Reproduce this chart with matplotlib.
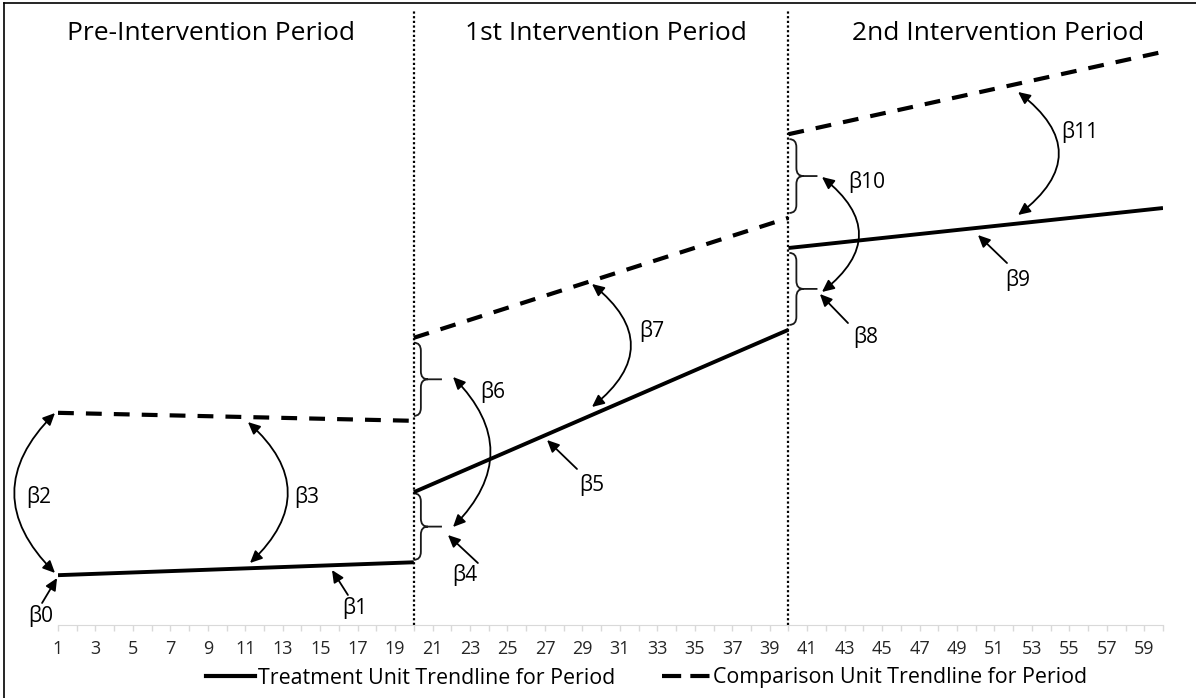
import matplotlib
matplotlib.use("Agg")
import matplotlib.pyplot as plt
from matplotlib.path import Path
from matplotlib.patches import PathPatch
from matplotlib.lines import Line2D

plt.rcParams['font.family'] = ['Open Sans', 'DejaVu Sans']

# period boundaries (start, end) on the time axis
periods = [(1, 20), (20, 40), (40, 60)]
period_names = ["Pre-Intervention Period", "1st Intervention Period", "2nd Intervention Period"]

# trendline values at start / end of each period
treatment = [(8.1, 10.2), (21.6, 48.0), (61.3, 67.8)]
comparison = [(34.5, 33.2), (46.7, 66.2), (79.8, 93.2)]

tick_values = list(range(1, 61))
tick_labels = [str(t) if t % 2 == 1 else "" for t in tick_values]

fig = plt.figure(figsize=(11.96, 6.98), dpi=100)
ax = fig.add_axes([58 / 1196, 73 / 698, 1105 / 1196, 615 / 698])

for (x0, x1), (t0, t1), (c0, c1) in zip(periods, treatment, comparison):
    ax.plot([x0, x1], [t0, t1], color="black", lw=2.8, solid_capstyle="butt")
    ln, = ax.plot([x0, x1], [c0, c1], color="black", lw=3.0, dash_capstyle="butt")
    ln.set_dashes((3.8, 2.9))

for x in [20, 40]:
    ax.axvline(x, color="black", lw=1.6, linestyle=(0, (1, 1.1)))

ax.set_xlim(1, 60)
ax.set_ylim(0, 100)
ax.set_xticks(tick_values)
ax.set_xticklabels(tick_labels, fontsize=13, color="#262626")
ax.tick_params(axis="x", direction="out", length=4, width=1, color="#d9d9d9", pad=7)
ax.set_yticks([])
for s in ["left", "top", "right"]:
    ax.spines[s].set_visible(False)
ax.spines["bottom"].set_color("#d9d9d9")

# period titles
title_x = [9.17, 30.26, 51.19]
for name, tx in zip(period_names, title_x):
    ax.text(tx, 96.2, name, ha="center", va="center", fontsize=19)


def brace(x0, ybot, ytop, w=0.75, stub=0.75, r=1.3):
    ym = (ybot + ytop) / 2
    xm = x0 + w / 2
    verts = [(x0, ytop), (xm, ytop), (xm, ytop - r), (xm, ym + r), (xm, ym), (x0 + w, ym),
             (xm, ym), (xm, ym - r), (xm, ybot + r), (xm, ybot), (x0, ybot),
             (x0 + w, ym), (x0 + w + stub, ym)]
    codes = [Path.MOVETO, Path.CURVE3, Path.CURVE3, Path.LINETO, Path.CURVE3, Path.CURVE3,
             Path.CURVE3, Path.CURVE3, Path.LINETO, Path.CURVE3, Path.CURVE3,
             Path.MOVETO, Path.LINETO]
    ax.add_patch(PathPatch(Path(verts, codes), fill=False, lw=1.3, color="#1a1a1a",
                           clip_on=False))


inset = 0.8
brace(20.0, treatment[0][1] + inset / 2, treatment[1][0] - inset / 4)
brace(20.0, comparison[0][1] + inset, comparison[1][0] - inset)
brace(40.05, treatment[1][1] + inset, treatment[2][0] - inset)
brace(40.05, comparison[1][1] + inset, comparison[2][0] - inset)

arrow_kw = dict(color="black", lw=1.3, shrinkA=0, shrinkB=0)


def curved(top, bottom, rad):
    ax.annotate("", xy=bottom, xytext=top, annotation_clip=False,
                arrowprops=dict(arrowstyle="<|-|>,head_length=0.6,head_width=0.28",
                                mutation_scale=12, connectionstyle=f"arc3,rad={rad}",
                                **arrow_kw))


def pointer(head, tail):
    ax.annotate("", xy=head, xytext=tail, annotation_clip=False,
                arrowprops=dict(arrowstyle="-|>,head_length=0.6,head_width=0.28",
                                mutation_scale=12, **arrow_kw))


curved((0.84, 34.47), (0.84, 8.46), 0.5)
curved((11.14, 33.0), (11.25, 10.08), -0.54)
curved((22.09, 40.33), (22.09, 15.93), -0.49)
curved((29.51, 55.45), (29.51, 35.45), -0.62)
curved((41.79, 72.85), (41.79, 54.15), -0.63)
curved((52.26, 86.67), (52.26, 66.67), -0.65)

pointer((0.95, 7.64), (0.15, 3.58))
pointer((15.63, 8.94), (16.48, 4.88))
pointer((21.82, 14.63), (23.42, 10.08))
pointer((27.11, 30.08), (28.71, 25.37))
pointer((41.68, 53.82), (43.18, 49.1))
pointer((50.12, 63.41), (51.67, 58.86))

labels = {
    "β0": (0.09, 1.46), "β1": (16.86, 2.76), "β2": (-0.01, 20.8), "β3": (14.29, 20.8),
    "β4": (22.73, 8.13), "β5": (29.51, 22.76), "β6": (24.22, 37.89), "β7": (32.71, 47.8),
    "β8": (44.14, 46.83), "β9": (52.26, 56.1), "β10": (44.19, 72.03), "β11": (55.57, 80.16),
}
for txt, (lx, ly) in labels.items():
    ax.text(lx, ly, txt, ha="center", va="center", fontsize=15)

# legend
h1 = Line2D([], [], color="black", lw=3.0)
h2 = Line2D([], [], color="black", lw=3.0, dashes=(4.6, 2.2))
fig.legend([h1, h2], ["Treatment Unit Trendline for Period", "Comparison Unit Trendline for Period"],
           loc="center", bbox_to_anchor=(647 / 1196, 20 / 698), ncol=2, frameon=False,
           fontsize=15.4, handlelength=2.25, handletextpad=0.15, columnspacing=2.2,
           borderpad=0, borderaxespad=0)

# outer frame
fig.add_artist(Line2D([4 / 1196, 1], [1 - 3 / 698, 1 - 3 / 698], color="black", lw=1.2))
fig.add_artist(Line2D([4 / 1196, 4 / 1196], [0, 1 - 3 / 698], color="black", lw=1.2))

fig.savefig("out.png", dpi=100)
